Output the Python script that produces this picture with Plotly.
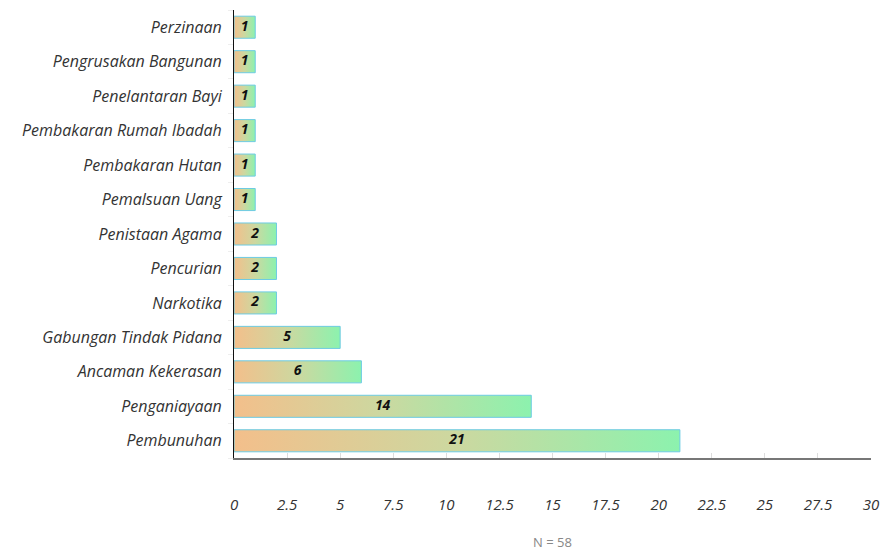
import plotly.graph_objects as go

categories = ["Perzinaan", "Pengrusakan Bangunan", "Penelantaran Bayi",
              "Pembakaran Rumah Ibadah", "Pembakaran Hutan", "Pemalsuan Uang",
              "Penistaan Agama", "Pencurian", "Narkotika", "Gabungan Tindak Pidana",
              "Ancaman Kekerasan", "Penganiayaan", "Pembunuhan"]
values = [1, 1, 1, 1, 1, 1, 2, 2, 2, 5, 6, 14, 21]
x_ticks = [0, 2.5, 5, 7.5, 10, 12.5, 15, 17.5, 20, 22.5, 25, 27.5, 30]
x_tick_labels = ["0", "2.5", "5", "7.5", "10", "12.5", "15", "17.5", "20", "22.5", "25", "27.5", "30"]
note = "N = 58"

FONT = "Open Sans"
half = 0.32
grad = [[0, "#F3BF8B"], [0.5, "#CCD8A0"], [1, "#8CF2AE"]]

fig = go.Figure()
for i, (cat, v) in enumerate(zip(categories, values)):
    fig.add_trace(go.Scatter(
        x=[0, v, v, 0, 0],
        y=[i - half, i - half, i + half, i + half, i - half],
        mode="lines", fill="toself",
        fillgradient=dict(type="horizontal", colorscale=grad),
        line=dict(color="#6DCBE3", width=1),
        hoverinfo="skip", showlegend=False,
    ))

fig.add_trace(go.Scatter(
    x=[v / 2 for v in values], y=list(range(len(categories))),
    mode="text", text=[str(v) for v in values],
    textfont=dict(family=FONT, size=14, color="#111", weight="bold", style="italic"),
    hoverinfo="skip", showlegend=False,
))

fig.add_annotation(text=note, x=0.5, y=-0.188, xref="paper", yref="paper",
                   showarrow=False, xanchor="center", yanchor="middle",
                   font=dict(family=FONT, size=13, color="#888", style="normal"))

fig.update_layout(
    width=888, height=552,
    margin=dict(l=234, r=17, t=10, b=94),
    plot_bgcolor="white", paper_bgcolor="white",
    font=dict(family=FONT, size=16, color="#333", style="italic"),
    xaxis=dict(range=[0, 30], tickvals=x_ticks, ticktext=x_tick_labels,
               showgrid=False, zeroline=False, showline=True,
               linecolor="#777", linewidth=2, ticks="inside", ticklen=5,
               tickcolor="#ddd", ticklabelstandoff=32,
               tickfont=dict(family=FONT, size=15, color="#333", style="italic")),
    yaxis=dict(range=[len(categories) - 0.5, -0.5],
               tickvals=list(range(len(categories))), ticktext=categories,
               showgrid=False, zeroline=False, showline=True,
               linecolor="#111", linewidth=1, ticks="", ticklabelstandoff=8,
               minor=dict(tick0=0.5, dtick=1, ticks="outside", ticklen=5, tickcolor="#eee"),
               tickfont=dict(family=FONT, size=16, color="#333", style="italic")),
)

fig.write_html("out.html")
